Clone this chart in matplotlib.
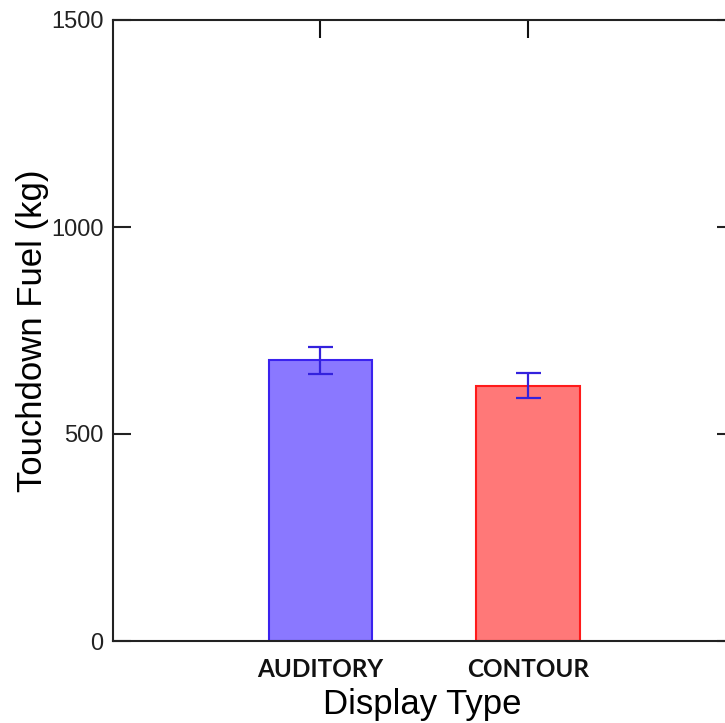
"""Touchdown fuel by display type (bar + SE)."""
import numpy as np
import matplotlib
matplotlib.use('Agg')
import matplotlib.pyplot as plt

# data
categories = ['AUDITORY', 'CONTOUR']
fuel_mean = [678, 617]
fuel_err = [32, 31]

fills = ['#8a78ff', '#ff7878']
edges = ['#3a22ee', '#ff1a1a']
err_color = '#3322dd'

W, H = 725, 723
fig = plt.figure(figsize=(W / 100, H / 100), dpi=100)
# right spine sits just outside the canvas, like the original
ax = fig.add_axes([113 / W, (H - 641) / H, (735 - 113) / W, (641 - 20) / H])

x = np.arange(1, len(categories) + 1)
ax.bar(x, fuel_mean, width=0.5, color=fills, edgecolor=edges, linewidth=1.5, zorder=2)
ax.errorbar(x, fuel_mean, yerr=fuel_err, fmt='none', ecolor=err_color,
            elinewidth=1.6, capsize=9, capthick=1.6, zorder=3)

ax.set_xlim(0, 3)
ax.set_ylim(0, 1500)
ax.set_yticks([0, 500, 1000, 1500])
ax.set_xticks(x)
ax.set_xticklabels(categories, fontfamily='Lato', fontweight='bold', fontsize=17.5)

for s in ax.spines.values():
    s.set_linewidth(1.5)
    s.set_color('#222222')

ax.tick_params(axis='y', direction='in', length=13, width=1.5, right=True,
               labelsize=17, pad=7, colors='#222222')
ax.tick_params(axis='x', direction='in', length=13, width=1.5, top=True,
               pad=12, colors='#111111')
for t in ax.get_yticklabels():
    t.set_fontfamily('Liberation Sans')

ax.set_ylabel('Touchdown Fuel (kg)', fontfamily='Liberation Sans', fontsize=25)
ax.set_xlabel('Display Type', fontfamily='Liberation Sans', fontsize=25)
ax.yaxis.set_label_coords((49 - 113) / 622, 0.5)
ax.xaxis.set_label_coords(0.5 * (320 + 525 - 2 * 113) / 622, (641 - 688) / 621)

fig.savefig('out.png', dpi=100)
